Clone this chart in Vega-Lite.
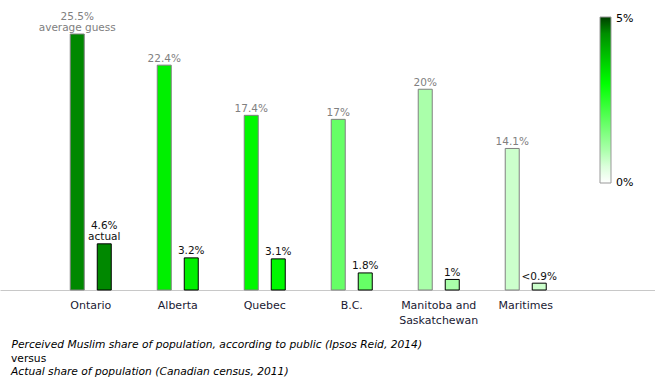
{
  "$schema": "https://vega.github.io/schema/vega-lite/v6.json",
  "width": 655,
  "height": 290,
  "padding": 0,
  "autosize": {"type": "pad"},
  "background": "#ffffff",
  "config": {
    "view": {"stroke": null},
    "font": "DejaVu Sans"
  },
  "title": {
    "text": "versus",
    "subtitle": "Actual share of population (Canadian census, 2011)",
    "orient": "bottom",
    "anchor": "start",
    "frame": "group",
    "dx": 11,
    "offset": 5,
    "fontSize": 10.7,
    "fontWeight": "normal",
    "color": "#000000",
    "subtitleFontSize": 10.7,
    "subtitleFontStyle": "italic",
    "subtitleColor": "#000000",
    "subtitlePadding": 3,
    "font": "DejaVu Sans",
    "subtitleFont": "DejaVu Sans"
  },
  "data": {
    "values": [
      {"region": "Ontario", "type": "perceived", "value": 25.5, "actual": 4.6, "label": "25.5%", "note": "average guess"},
      {"region": "Ontario", "type": "actual", "value": 4.6, "actual": 4.6, "label": "4.6%", "note": "actual"},
      {"region": "Alberta", "type": "perceived", "value": 22.4, "actual": 3.2, "label": "22.4%", "note": ""},
      {"region": "Alberta", "type": "actual", "value": 3.2, "actual": 3.2, "label": "3.2%", "note": ""},
      {"region": "Quebec", "type": "perceived", "value": 17.4, "actual": 3.1, "label": "17.4%", "note": ""},
      {"region": "Quebec", "type": "actual", "value": 3.1, "actual": 3.1, "label": "3.1%", "note": ""},
      {"region": "B.C.", "type": "perceived", "value": 17, "actual": 1.8, "label": "17%", "note": ""},
      {"region": "B.C.", "type": "actual", "value": 1.7, "actual": 1.8, "label": "1.8%", "note": ""},
      {"region": "Manitoba and Saskatchewan", "type": "perceived", "value": 20, "actual": 1, "label": "20%", "note": ""},
      {"region": "Manitoba and Saskatchewan", "type": "actual", "value": 1.05, "actual": 1, "label": "1%", "note": ""},
      {"region": "Maritimes", "type": "perceived", "value": 14.1, "actual": 0.7, "label": "14.1%", "note": ""},
      {"region": "Maritimes", "type": "actual", "value": 0.68, "actual": 0.7, "label": "<0.9%", "note": ""}
    ]
  },
  "encoding": {
    "x": {
      "field": "region",
      "type": "nominal",
      "sort": ["Ontario", "Alberta", "Quebec", "B.C.", "Manitoba and Saskatchewan", "Maritimes"],
      "scale": {"paddingInner": 0.379, "paddingOuter": 0.954, "align": 0.384},
      "axis": {
        "title": "Perceived Muslim share of population, according to public (Ipsos Reid, 2014)",
        "titleFontStyle": "italic",
        "titleFontWeight": "normal",
        "titleFontSize": 10.7,
        "titleColor": "#000000",
        "titleAlign": "left",
        "titleAnchor": "start",
        "titleBaseline": "middle",
        "titleX": 11,
        "titleY": 54,
        "labelAngle": 0,
        "labelFontSize": 11,
        "labelColor": "#1a1a33",
        "labelPadding": 15,
        "labelBaseline": "middle",
        "labelLineHeight": 15,
        "labelExpr": "datum.value == 'Manitoba and Saskatchewan' ? ['Manitoba and', 'Saskatchewan'] : datum.label",
        "ticks": false,
        "domainColor": "#c8c8c8",
        "domainWidth": 1
      }
    },
    "xOffset": {
      "field": "type",
      "type": "nominal",
      "sort": ["perceived", "actual"],
      "scale": {"paddingInner": 0.4815, "paddingOuter": 0.2407}
    },
    "y": {
      "field": "value",
      "type": "quantitative",
      "scale": {"domain": [0, 28.89], "nice": false, "zero": true},
      "axis": null
    }
  },
  "layer": [
    {
      "mark": {"type": "bar", "strokeWidth": 1},
      "encoding": {
        "color": {
          "field": "actual",
          "type": "quantitative",
          "scale": {
            "domain": [0, 0.7, 1, 1.8, 3, 4.6, 5],
            "range": ["#ffffff", "#ccffcc", "#aaffaa", "#66ff66", "#00ff00", "#008800", "#004000"],
            "interpolate": "rgb"
          },
          "legend": {
            "orient": "none",
            "legendX": 600,
            "legendY": 17,
            "direction": "vertical",
            "title": null,
            "gradientLength": 166,
            "gradientThickness": 11,
            "gradientStrokeColor": "#999999",
            "gradientStrokeWidth": 1,
            "values": [0, 5],
            "labelExpr": "datum.value + '%'",
            "labelFontSize": 11,
            "labelColor": "#000000",
            "labelOffset": 5,
            "padding": 0,
            "encode": {
              "labels": {"update": {"baseline": {"value": "middle"}, "dy": {"signal": "datum.value > 2 ? 2 : 0"}}}
            }
          }
        },
        "stroke": {
          "field": "type",
          "type": "nominal",
          "scale": {"domain": ["perceived", "actual"], "range": ["#808080", "#000000"]},
          "legend": null
        }
      }
    },
    {
      "transform": [{"filter": "datum.note == ''"}],
      "mark": {"type": "text", "baseline": "alphabetic", "dy": -3.5, "fontSize": 10.5, "font": "DejaVu Sans"},
      "encoding": {
        "text": {"field": "label", "type": "nominal"},
        "fill": {
          "field": "type",
          "type": "nominal",
          "scale": {"domain": ["perceived", "actual"], "range": ["#808080", "#111111"]},
          "legend": null
        }
      }
    },
    {
      "transform": [{"filter": "datum.note != ''"}],
      "mark": {"type": "text", "baseline": "alphabetic", "dy": -3.5, "fontSize": 10.5, "font": "DejaVu Sans"},
      "encoding": {
        "text": {"field": "note", "type": "nominal"},
        "fill": {
          "field": "type",
          "type": "nominal",
          "scale": {"domain": ["perceived", "actual"], "range": ["#808080", "#111111"]},
          "legend": null
        }
      }
    },
    {
      "transform": [{"filter": "datum.note != ''"}],
      "mark": {"type": "text", "baseline": "alphabetic", "dy": -14.5, "fontSize": 10.5, "font": "DejaVu Sans"},
      "encoding": {
        "text": {"field": "label", "type": "nominal"},
        "fill": {
          "field": "type",
          "type": "nominal",
          "scale": {"domain": ["perceived", "actual"], "range": ["#808080", "#111111"]},
          "legend": null
        }
      }
    }
  ]
}
